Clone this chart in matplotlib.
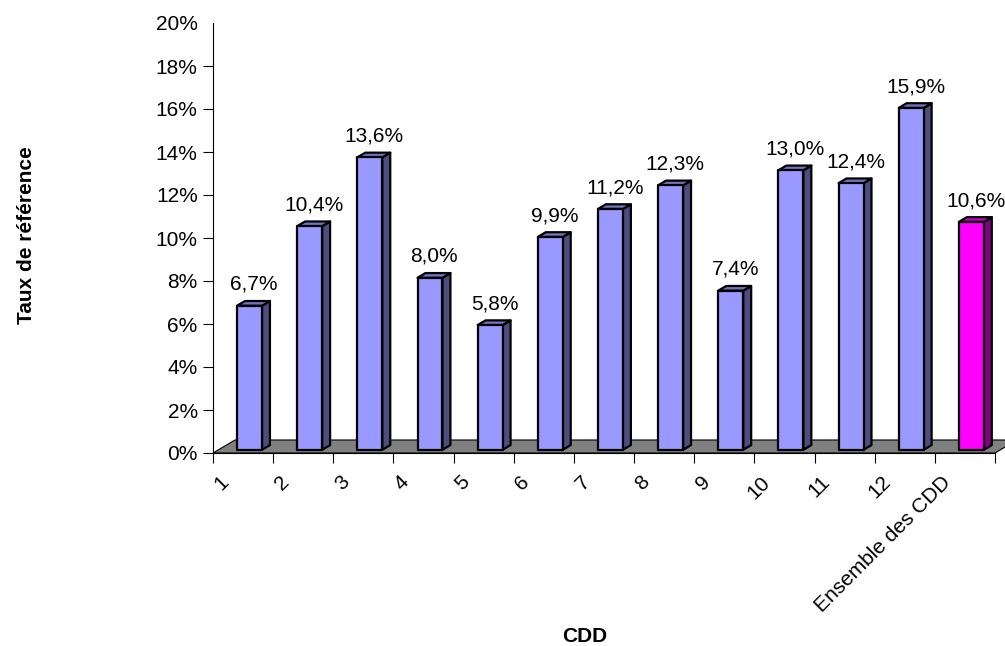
import matplotlib
matplotlib.use("Agg")
import matplotlib.pyplot as plt
from matplotlib.patches import Polygon
from matplotlib.transforms import ScaledTranslation

plt.rcParams['font.family'] = ['Liberation Sans', 'DejaVu Sans']

categories = ['1', '2', '3', '4', '5', '6', '7', '8', '9', '10', '11', '12',
              'Ensemble des CDD']
taux = [6.7, 10.4, 13.6, 8.0, 5.8, 9.9, 11.2, 12.3, 7.4, 13.0, 12.4, 15.9, 10.6]
yticks = [0, 2, 4, 6, 8, 10, 12, 14, 16, 18, 20]

# face colours: front, top, side
blue = ('#9999FF', '#7373C0', '#4D4D80')
magenta = ('#FF00FF', '#CC00CC', '#800080')

FS = 15

fig = plt.figure(figsize=(10.05, 6.46), dpi=100)
ax = fig.add_axes([213 / 1005, 193 / 646, 782 / 1005, 430 / 646])
ax.set_xlim(0, len(categories))
ax.set_ylim(0, 20)

# depth of the floor (in data units) and where bars sit in it
Dx, Dy = 0.366, 0.605
t0, t1 = 0.25, 0.61
width = 0.415
ddx, ddy = (t1 - t0) * Dx, (t1 - t0) * Dy

n = len(categories)
floor = Polygon([(0, 0), (n, 0), (n + Dx, Dy), (Dx, Dy)], closed=True,
                facecolor='#808080', edgecolor='black', lw=0.8,
                clip_on=False, zorder=1)
ax.add_patch(floor)

for i, v in enumerate(taux):
    front_c, top_c, side_c = magenta if i == n - 1 else blue
    x0 = i + 0.40
    x1 = x0 + width
    base = t0 * Dy
    top = base + v
    kw = dict(closed=True, edgecolor='black', lw=1.6, joinstyle='round',
              clip_on=False, zorder=3)
    ax.add_patch(Polygon([(x1, base), (x1 + ddx, base + ddy),
                          (x1 + ddx, top + ddy), (x1, top)],
                         facecolor=side_c, **kw))
    ax.add_patch(Polygon([(x0, top), (x1, top), (x1 + ddx, top + ddy),
                          (x0 + ddx, top + ddy)], facecolor=top_c, **kw))
    ax.add_patch(Polygon([(x0, base), (x1, base), (x1, top), (x0, top)],
                         facecolor=front_c, **kw))
    ax.annotate(f"{v:.1f}%".replace('.', ','), xy=(i + 0.68, top + ddy),
                xytext=(0, 8), textcoords='offset points',
                ha='center', va='baseline', fontsize=FS, annotation_clip=False)

for s in ['top', 'right']:
    ax.spines[s].set_visible(False)
ax.spines['left'].set_linewidth(0.8)
ax.spines['bottom'].set_linewidth(0.8)
ax.spines['bottom'].set_zorder(2)

ax.set_yticks(yticks)
ax.set_yticklabels([f"{t}%" for t in yticks], fontsize=FS)
ax.tick_params(axis='y', length=7, width=0.8, pad=4)
ax.yaxis.get_major_ticks()[-1].tick1line.set_visible(False)

# ticks on category boundaries, labels in the middle
ax.set_xticks(range(n + 1))
ax.set_xticklabels([])
ax.tick_params(axis='x', which='major', length=7, width=0.8)
ax.set_xticks([i + 0.5 for i in range(n)], minor=True)
ax.set_xticklabels(categories, minor=True, rotation=45, rotation_mode='anchor',
                   ha='right', va='top', fontsize=FS)
ax.tick_params(axis='x', which='minor', length=0, pad=14)
shift = ScaledTranslation(-24 / 100, 0, fig.dpi_scale_trans)
for lbl in ax.get_xticklabels(minor=True):
    lbl.set_transform(lbl.get_transform() + shift)

fig.text(27 / 1005, 1 - 235 / 646, 'Taux de référence', rotation=90,
         ha='center', va='center', fontsize=FS, fontweight='bold')
fig.text(585 / 1005, 1 - 637 / 646, 'CDD', ha='center', va='center',
         fontsize=FS, fontweight='bold')

fig.savefig('out.png', dpi=100)
